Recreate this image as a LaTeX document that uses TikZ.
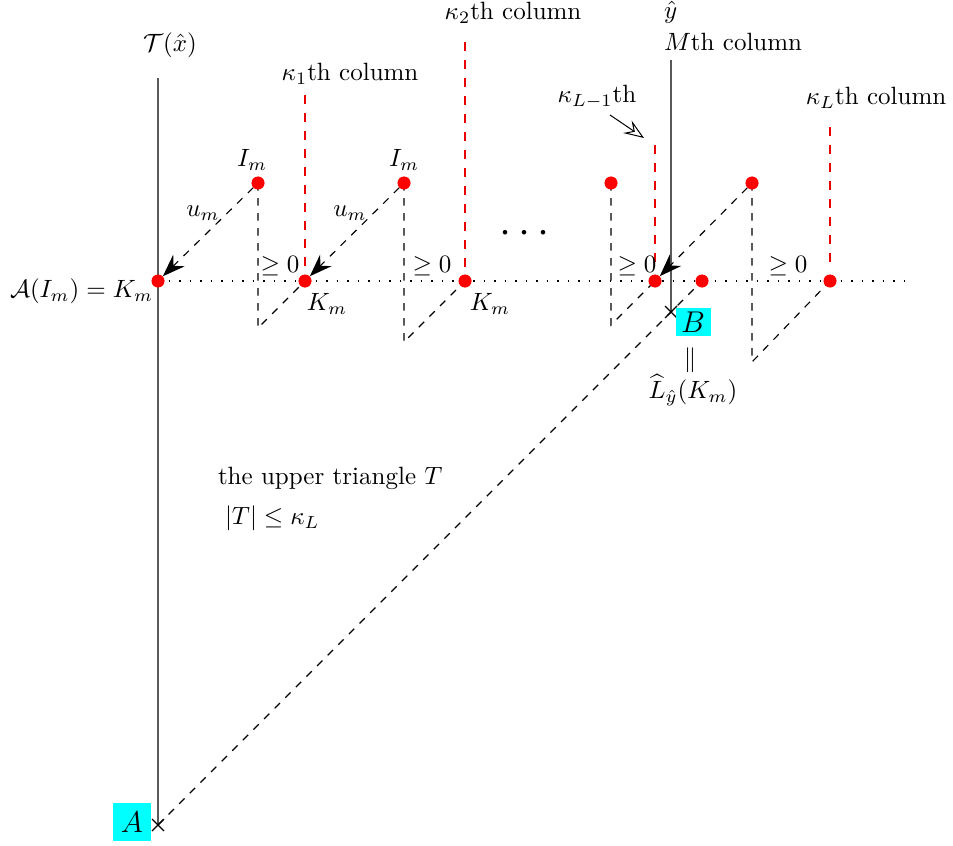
\documentclass[tikz,border=0pt]{standalone}
\usepackage{amsmath,amssymb}
\usetikzlibrary{arrows.meta,calc}
\definecolor{boxcyan}{RGB}{0,255,255}
\definecolor{colred}{RGB}{235,0,0}
\begin{document}
\begin{tikzpicture}[x=0.4pt,y=-0.4pt,
  reddot/.style={circle,fill=red,inner sep=0pt,minimum size=5pt},
  axisline/.style={draw=black!65,line width=0.7pt},
  redcol/.style={draw=colred,dash pattern=on 3.6pt off 3.6pt,line width=0.45pt},
  dashline/.style={draw=black,dash pattern=on 3pt off 3pt,line width=0.45pt},
  umarrow/.style={dashline,-{Stealth[length=9pt,width=6.5pt,inset=3pt]}},
  cyanbox/.style={fill=boxcyan,inner sep=1pt,font=\large},
  lbl/.style={inner sep=1pt}]
\useasboundingbox (0,0) rectangle (953,846);
% coordinates
\coordinate (Ltop) at (158,78);
\coordinate (Mtop) at (671,60);
\coordinate (A) at (158,825);
\coordinate (Bx) at (671,312);
\coordinate (dotend) at (908,281);
\node[reddot] (K0) at (158,281) {};
\node[reddot] (D1) at (305,281) {};
\node[reddot] (D2) at (465,281) {};
\node[reddot] (D3) at (655,281) {};
\node[reddot] (D4) at (702,281) {};
\node[reddot] (D5) at (830,281) {};
\node[reddot] (U1) at (258,183) {};
\node[reddot] (U2) at (404,183) {};
\node[reddot] (U3) at (611,183) {};
\node[reddot] (U4) at (752,183) {};
\coordinate (B1) at (258,328);
\coordinate (B2) at (404,342);
\coordinate (B3) at (611,325);
\coordinate (B4) at (752,362);
\coordinate (R1t) at (305,95);  \coordinate (R1b) at (305,270);
\coordinate (R2t) at (465,42);  \coordinate (R2b) at (465,270);
\coordinate (R3t) at (655,145); \coordinate (R3b) at (655,270);
\coordinate (R5t) at (830,127); \coordinate (R5b) at (830,270);
% dotted line
\draw[dash pattern=on 0.6pt off 3.6pt,line width=0.6pt] (K0.center) -- (dotend);
% solid columns
\draw[axisline] (Ltop) -- (A);
\draw[axisline] (Mtop) -- (Bx);
% red dashed columns
\draw[redcol] (R1t) -- (R1b);
\draw[redcol] (R2t) -- (R2b);
\draw[redcol] (R3t) -- (R3b);
\draw[redcol] (R5t) -- (R5b);
% triangles
\draw[dashline] (U1.center) -- (B1) -- (D1.center);
\draw[dashline] (U2.center) -- (B2) -- (D2.center);
\draw[dashline] (U3.center) -- (B3) -- (D3.center);
\draw[dashline] (U4.center) -- (B4) -- (D5.center);
% long dashed line
\draw[dashline] (A) -- (D4.center);
% arrows
\draw[umarrow] (U1) -- (K0);
\draw[umarrow] (U2) -- (D1);
\draw[umarrow] (U4) -- (D3);
% crosses
\draw[line width=0.5pt] ($(A)+(-6,-6)$) -- ($(A)+(6,6)$) ($(A)+(-6,6)$) -- ($(A)+(6,-6)$);
\draw[line width=0.5pt] ($(Bx)+(-6,-6)$) -- ($(Bx)+(6,6)$) ($(Bx)+(-6,6)$) -- ($(Bx)+(6,-6)$);
% redraw dots on top
\foreach \n in {K0,D1,D2,D3,D4,D5,U1,U2,U3,U4} \fill[red] (\n) circle (2.6pt);
% labels
\node[lbl] (tx) at (170,45) {$\mathcal{T}(\hat{x})$};
\node[lbl] (k1) at (350,74) {$\kappa_1$th column};
\node[lbl] (k2) at (513,13) {$\kappa_2$th column};
\node[lbl,anchor=west] (yh) at (661,12) {$\hat{y}$};
\node[lbl,anchor=west] (Mc) at (661,42) {$M$th column};
\node[lbl] (kL1) at (597,97) {$\kappa_{L-1}$th};
\coordinate (kLa) at (644,138);
\coordinate (kLs) at (610,115);
\draw[-{Stealth[open,length=8pt,width=6pt,inset=3pt]},line width=0.4pt] (kLs) -- (kLa);
\node[lbl] (kL) at (876,98) {$\kappa_L$th column};
\node[lbl] (I1) at (252,160) {$I_m$};
\node[lbl] (I2) at (404,160) {$I_m$};
\node[lbl] (u1) at (203,213) {$u_m$};
\node[lbl] (u2) at (350,213) {$u_m$};
\node[lbl] (g1) at (280,266) {$\geq 0$};
\node[lbl] (g2) at (432,266) {$\geq 0$};
\node[lbl] (g3) at (637,266) {$\geq 0$};
\node[lbl] (g4) at (788,266) {$\geq 0$};
\node[lbl] (Km1) at (327,304) {$K_m$};
\node[lbl] (Km2) at (490,304) {$K_m$};
\node[lbl,anchor=east] (AK) at (156,291) {$\mathcal{A}(I_m)=K_m$};
\node[lbl,font=\LARGE] (dots) at (528,234) {$\cdots$};
\node[cyanbox,minimum width=14pt,minimum height=11.5pt] (Bl) at (693,322) {$B$};
\node[lbl] (par) at (690,360) {$\|$};
\node[lbl] (Lh) at (693,390) {$\widehat{L}_{\hat{y}}(K_m)$};
\node[lbl,anchor=west] (ut) at (215,478) {the upper triangle $T$};
\node[lbl,anchor=west] (Tk) at (222,518) {$|T|\leq\kappa_L$};
\node[cyanbox,minimum width=15pt,minimum height=15pt] (Al) at (132,822) {$A$};
\end{tikzpicture}
\end{document}
